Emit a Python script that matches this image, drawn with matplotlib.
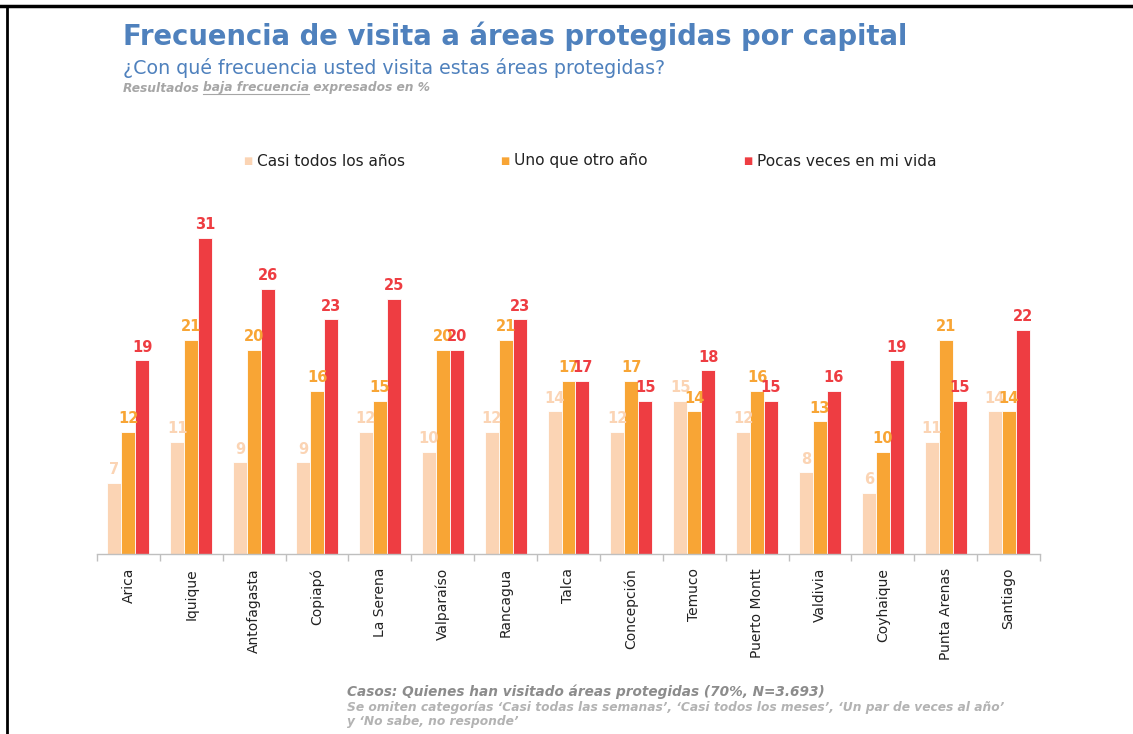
import numpy as np
import matplotlib
matplotlib.use("Agg")
import matplotlib.pyplot as plt
from matplotlib.lines import Line2D

# ─── Data ────────────────────────────────────────────────────────────────────

cities = ["Arica", "Iquique", "Antofagasta", "Copiapó", "La Serena", "Valparaíso",
          "Rancagua", "Talca", "Concepción", "Temuco", "Puerto Montt", "Valdivia",
          "Coyhaique", "Punta Arenas", "Santiago"]
casi_todos = [7, 11, 9, 9, 12, 10, 12, 14, 12, 15, 12, 8, 6, 11, 14]
uno_que_otro = [12, 21, 20, 16, 15, 20, 21, 17, 17, 14, 16, 13, 10, 21, 14]
pocas_veces = [19, 31, 26, 23, 25, 20, 23, 17, 15, 18, 15, 16, 19, 15, 22]
series_names = ["Casi todos los años", "Uno que otro año", "Pocas veces en mi vida"]

COLORS = ["#FBD4B4", "#F8A535", "#EE3D42"]
TITLE_BLUE = "#4F81BD"

# ─── Figure ──────────────────────────────────────────────────────────────────

W, H = 1133, 734
fig = plt.figure(figsize=(W / 100, H / 100), dpi=100)
fig.patch.set_facecolor("white")

ax = fig.add_axes([97 / W, (H - 554) / H, (1040 - 97) / W, 356 / H])

x = np.arange(len(cities))
bw = 0.222
for k, vals in enumerate([casi_todos, uno_que_otro, pocas_veces]):
    pos = x + (k - 1) * bw
    ax.bar(pos, vals, width=bw, color=COLORS[k], edgecolor="white", linewidth=0.6, zorder=2)
    for px, v in zip(pos, vals):
        ax.text(px, v + 0.55, str(v), ha="center", va="bottom", fontsize=10.5,
                fontweight="bold", color=COLORS[k], zorder=3)

ax.set_xlim(-0.5, len(cities) - 0.5)
ax.set_ylim(0, 34.9)
ax.set_yticks([])
for s in ["top", "right", "left"]:
    ax.spines[s].set_visible(False)
ax.spines["bottom"].set_color("#BFBFBF")
ax.spines["bottom"].set_linewidth(1.0)
ax.set_xticks(np.arange(len(cities) + 1) - 0.5, minor=True)
ax.set_xticks(x)
ax.set_xticklabels(cities, rotation=90, fontsize=10, color="#222222")
ax.tick_params(axis="x", which="major", length=0, pad=10)
ax.tick_params(axis="x", which="minor", length=5, color="#BFBFBF", width=1.0)

# Legend (square marker + label, spaced as in the original slide)
leg_x = [248, 505, 748]
for hx, c, name in zip(leg_x, COLORS, series_names):
    fig.text(hx / W, 1 - 161 / H, "■", color=c, fontsize=7, ha="center", va="center")
    fig.text((hx + 9) / W, 1 - 161 / H, name, fontsize=11.1, color="#222222",
             ha="left", va="center")

# Titles
fig.text(123 / W, 1 - 36 / H, "Frecuencia de visita a áreas protegidas por capital",
         fontsize=19.8, fontweight="bold", color=TITLE_BLUE, ha="left", va="center")
fig.text(123 / W, 1 - 68 / H, "¿Con qué frecuencia usted visita estas áreas protegidas?",
         fontsize=13.7, color=TITLE_BLUE, ha="left", va="center")
t1 = fig.text(123 / W, 1 - 88 / H, "Resultados ", fontsize=8.8, fontweight="bold",
              style="italic", color="#A6A6A6", ha="left", va="center")
fig.canvas.draw()
r = fig.canvas.get_renderer()
bb = t1.get_window_extent(r)
t2 = fig.text(bb.x1 / W, 1 - 88 / H, "baja frecuencia", fontsize=8.8, fontweight="bold",
              style="italic", color="#A6A6A6", ha="left", va="center")
bb2 = t2.get_window_extent(r)
fig.add_artist(Line2D([bb2.x0 / W, bb2.x1 / W], [(bb2.y0 + 1) / H, (bb2.y0 + 1) / H],
                      color="#A6A6A6", linewidth=0.8))
fig.text(bb2.x1 / W, 1 - 88 / H, " expresados en %", fontsize=8.8, fontweight="bold",
         style="italic", color="#A6A6A6", ha="left", va="center")

# Footer
fig.text(347 / W, 1 - 692 / H, "Casos: Quienes han visitado áreas protegidas (70%, N=3.693)",
         fontsize=9.8, fontweight="bold", style="italic", color="#8C8C8C",
         ha="left", va="center")
fig.text(347 / W, 1 - 708 / H,
         "Se omiten categorías ‘Casi todas las semanas’, ‘Casi todos los meses’, "
         "‘Un par de veces al año’",
         fontsize=8.85, fontweight="bold", style="italic", color="#B3B3B3",
         ha="left", va="center")
fig.text(347 / W, 1 - 722 / H, "y ‘No sabe, no responde’",
         fontsize=8.85, fontweight="bold", style="italic", color="#B3B3B3",
         ha="left", va="center")

# Frame lines (slide border)
fig.add_artist(Line2D([0, 1], [1 - 6 / H, 1 - 6 / H], color="black", linewidth=2.5))
fig.add_artist(Line2D([7 / W, 7 / W], [0, 1 - 6 / H], color="black", linewidth=2.0))

fig.savefig("out.png", dpi=100, facecolor="white")
